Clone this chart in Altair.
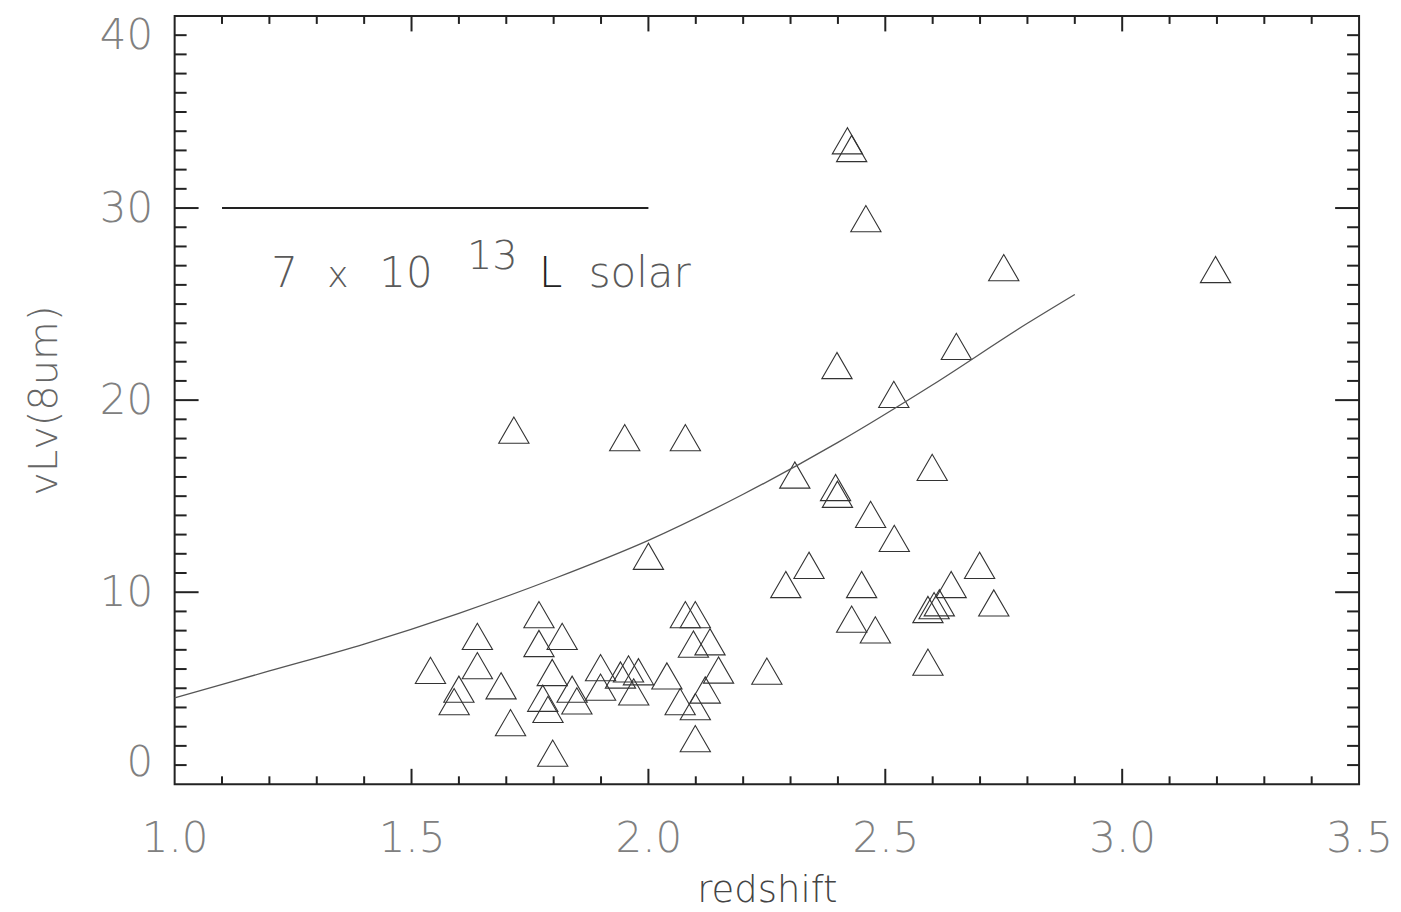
import altair as alt
import pandas as pd

# ---- data ----
redshift = [1.716, 1.950, 2.078, 2.420, 2.429, 2.459, 2.750, 3.197, 2.650, 2.398,
            2.518, 2.599, 2.309, 2.395, 2.399, 2.469, 2.519, 2.000, 2.339, 2.290,
            2.450, 2.699, 2.639, 2.729, 2.590, 2.603, 2.614, 2.429, 2.479, 2.590,
            2.250, 1.540, 1.639, 1.639, 1.600, 1.590, 1.689, 1.709, 1.769, 1.818,
            1.769, 1.797, 1.777, 1.788, 1.798, 1.839, 1.849, 2.078, 2.099, 2.095,
            2.130, 1.899, 1.958, 1.941, 1.979, 2.039, 1.899, 1.969, 2.148, 2.120,
            2.067, 2.099, 2.099]
vlv8 = [18.44, 18.05, 18.05, 33.5, 33.1, 29.45, 26.9, 26.8, 22.8, 21.8,
        20.3, 16.5, 16.1, 15.45, 15.1, 14.05, 12.8, 11.87, 11.4, 10.4,
        10.4, 11.4, 10.4, 9.44, 9.1, 9.3, 9.45, 8.6, 8.04, 6.36,
        5.89, 5.93, 7.70, 6.18, 4.95, 4.30, 5.13, 3.21, 8.83, 7.70,
        7.33, 5.82, 4.48, 3.90, 1.62, 4.95, 4.34, 8.83, 8.83, 7.30,
        7.42, 6.07, 6.01, 5.69, 5.86, 5.64, 5.06, 4.81, 5.95, 4.91,
        4.30, 4.04, 2.38]

curve_z = [1.0, 1.2, 1.4, 1.6, 1.8, 2.0, 2.2, 2.4, 2.6, 2.8, 2.9]
curve_v = [4.5, 5.9, 7.3, 8.9, 10.7, 12.7, 15.1, 17.8, 20.8, 24.0, 25.5]

legend_line_z = [1.1, 2.0]
legend_line_v = [30, 30]

x_label_values = [1.0, 1.5, 2.0, 2.5, 3.0, 3.5]
y_label_values = [0, 10, 20, 30, 40]
x_major_inner = [1.5, 2.0, 2.5, 3.0]
x_minor = [1.1, 1.2, 1.3, 1.4, 1.6, 1.7, 1.8, 1.9, 2.1, 2.2, 2.3, 2.4,
           2.6, 2.7, 2.8, 2.9, 3.1, 3.2, 3.3, 3.4]
y_major_inner = [10, 20, 30]
y_minor = [1, 2, 3, 4, 5, 6, 7, 8, 9, 11, 12, 13, 14, 15, 16, 17, 18, 19,
           21, 22, 23, 24, 25, 26, 27, 28, 29, 31, 32, 33, 34, 35, 36, 37, 38, 39]

ann_gray_text = ["7", "x", "10", "13", "solar"]
ann_gray_z = [1.204, 1.322, 1.432, 1.617, 1.874]
ann_gray_v = [25.9, 25.9, 25.9, 26.83, 25.9]
ann_gray_size_key = ["main", "small", "main", "sup", "main"]
ann_dark_text = ["L"]
ann_dark_z = [1.769]
ann_dark_v = [25.9]

# ---- chart ----
W, H = 1187, 770
FONT = "DejaVu Sans"
INK = "#222222"
THIN = 200

xs = alt.Scale(domain=[1.0, 3.5], nice=False, zero=False)
ys = alt.Scale(domain=[0, 40], nice=False, zero=False)

x_axis = alt.Axis(
    title="redshift", values=x_label_values, format=".1f",
    ticks=False, domain=False, grid=False, labelFlush=False,
    labelFontSize=42, labelColor="#808080", labelFont=FONT, labelPadding=34,
    labelFontWeight=THIN,
    titleFontSize=37, titleColor="#444444", titleFont=FONT,
    titleFontWeight=THIN, titleY=117, titleBaseline="alphabetic")
y_axis = alt.Axis(
    title="vLv(8um)", values=y_label_values, format="d",
    ticks=False, domain=False, grid=False, labelFlush=True,
    labelFontSize=42, labelColor="#808080", labelFont=FONT, labelPadding=22,
    labelFontWeight=THIN,
    titleFontSize=40, titleColor="#666666", titleFont=FONT,
    titleFontWeight=THIN, titleX=-130, titleY=385,
    titleAlign="center", titleBaseline="middle", titleAngle=270)


def X(field):
    return alt.X(field, scale=xs, axis=x_axis, title="redshift")


def Y(field):
    return alt.Y(field, scale=ys, axis=y_axis, title="vLv(8um)")


pts_df = pd.DataFrame({"z": redshift, "v": vlv8})
curve_df = pd.DataFrame({"z": curve_z, "v": curve_v})
legline_df = pd.DataFrame({"z": legend_line_z, "v": legend_line_v})

points = alt.Chart(pts_df).mark_point(
    shape="triangle-up", filled=False, size=920, stroke="#333333",
    strokeWidth=1.1, opacity=1
).encode(x=X("z:Q"), y=Y("v:Q"))

curve = alt.Chart(curve_df).mark_line(
    color="#555555", strokeWidth=1.3, interpolate="monotone"
).encode(x=X("z:Q"), y=Y("v:Q"))

legline = alt.Chart(legline_df).mark_line(color=INK, strokeWidth=2).encode(
    x=X("z:Q"), y=Y("v:Q"))

size_map = {"main": 42, "small": 36, "sup": 40}
gray_df = pd.DataFrame({"z": ann_gray_z, "v": ann_gray_v, "t": ann_gray_text,
                        "s": [size_map[k] for k in ann_gray_size_key]})
dark_df = pd.DataFrame({"z": ann_dark_z, "v": ann_dark_v, "t": ann_dark_text})

gray_txt = alt.Chart(gray_df).mark_text(
    align="left", baseline="alphabetic", font=FONT, color="#5a5a5a",
    fontWeight=THIN
).encode(
    x=X("z:Q"), y=Y("v:Q"), text="t:N",
    size=alt.Size("s:Q", scale=None, legend=None),
)
dark_txt = alt.Chart(dark_df).mark_text(
    align="left", baseline="alphabetic", font=FONT, color=INK, fontSize=42,
    fontWeight=THIN
).encode(x=X("z:Q"), y=Y("v:Q"), text="t:N")


def xticks(vals, length):
    d = pd.DataFrame({"z": vals})
    base = alt.Chart(d).mark_rule(color=INK, strokeWidth=2)
    bottom = base.encode(x=X("z:Q"), y=alt.value(H), y2=alt.value(H - length))
    top = base.encode(x=X("z:Q"), y=alt.value(0), y2=alt.value(length))
    return [bottom, top]


def yticks(vals, length):
    d = pd.DataFrame({"v": vals})
    base = alt.Chart(d).mark_rule(color=INK, strokeWidth=2)
    left = base.encode(y=Y("v:Q"), x=alt.value(0), x2=alt.value(length))
    right = base.encode(y=Y("v:Q"), x=alt.value(W), x2=alt.value(W - length))
    return [left, right]


tick_layers = (xticks(x_minor, 8) + xticks(x_major_inner, 15.5)
               + yticks(y_minor, 12) + yticks(y_major_inner, 24))

chart = alt.layer(
    points, curve, legline, gray_txt, dark_txt, *tick_layers
).properties(
    width=W, height=H,
    background="white",
    autosize=alt.AutoSizeParams(type="none"),
    padding={"left": 167, "top": 7, "right": 34, "bottom": 125},
).configure_view(
    stroke=INK, strokeWidth=2
)

chart.save("out.html", embed_options={"renderer": "svg", "actions": False})
